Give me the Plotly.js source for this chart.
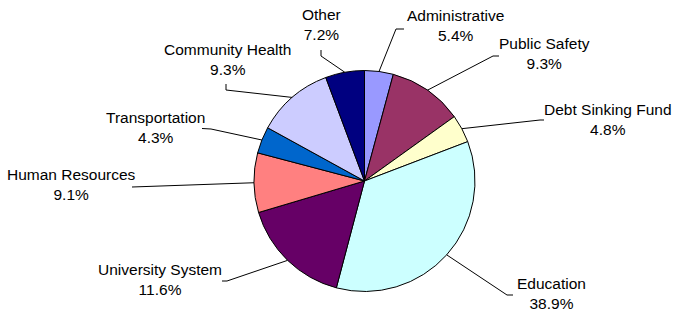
<!DOCTYPE html>
<html>
<head>
<meta charset="utf-8">
<script src="https://cdn.plot.ly/plotly-3.0.1.min.js"></script>
<style>html,body{margin:0;padding:0;background:#fff;}#chart{width:674px;height:314px;}</style>
</head>
<body>
<div id="chart"></div>
<script>
// ---- data ----
const categories = ["Administrative", "Public Safety", "Debt Sinking Fund", "Education", "University System", "Human Resources", "Transportation", "Community Health", "Other"];
// slice sizes as drawn in the picture (share of the circle, %)
const sliceShares = [4.2, 10.9, 4.1, 34.9, 16.3, 8.7, 3.9, 11.3, 5.7];
// percentages as printed on the labels
const percentLabels = ["5.4%", "9.3%", "4.8%", "38.9%", "11.6%", "9.1%", "4.3%", "9.3%", "7.2%"];

// ---- styles / layout config ----
const sliceColors = ["#9999FF", "#993366", "#FFFFCC", "#CCFFFF", "#660066", "#FF8080", "#0066CC", "#CCCCFF", "#000080"];
const W = 674, H = 314;
const pieCx = 364.5, pieCy = 181, pieR = 110.5;
// label centre positions (px)
const labelX = [455, 544, 608, 551, 160, 71, 155, 228, 321];
const labelY = [26, 54, 119, 293, 279, 184, 127, 59, 25];
// leader elbow and end points (px)
const elbowX = [396, 493, 540, 507, 227, 132, 211, 226, 321];
const elbowY = [29, 56, 120, 295, 281, 187, 129, 90, 56];
const endX = [404, 499, 544, 513, 222, 132, 202, 226, 321];
const endY = [29, 56, 120, 295, 281, 187, 128.5, 84, 50];

const fontFamily = "Liberation Sans, Arial, sans-serif";

const total = sliceShares.reduce((a, b) => a + b, 0);
const px = x => x / W;
const py = y => 1 - y / H;

const shapes = [];
const annotations = [];
let cum = 0;
sliceShares.forEach((v, i) => {
  const mid = (cum + v / 2) / total * 2 * Math.PI;
  cum += v;
  const ex = pieCx + pieR * Math.sin(mid);
  const ey = pieCy - pieR * Math.cos(mid);
  shapes.push({
    type: "path", xref: "paper", yref: "paper",
    path: `M ${px(ex)} ${py(ey)} L ${px(elbowX[i])} ${py(elbowY[i])} L ${px(endX[i])} ${py(endY[i])}`,
    line: {color: "#000", width: 1}
  });
  annotations.push({
    xref: "paper", yref: "paper", x: px(labelX[i]), y: py(labelY[i]),
    xanchor: "center", yanchor: "middle", showarrow: false, align: "center",
    text: categories[i] + "<br>" + percentLabels[i],
    font: {family: fontFamily, size: 15.5, color: "#000"}
  });
});

const trace = {
  type: "pie",
  labels: categories,
  values: sliceShares,
  sort: false,
  direction: "clockwise",
  rotation: 0,
  textinfo: "none",
  hoverinfo: "label",
  marker: {colors: sliceColors, line: {color: "#000", width: 1}},
  domain: {x: [px(pieCx - pieR), px(pieCx + pieR)], y: [py(pieCy + pieR), py(pieCy - pieR)]}
};

Plotly.newPlot("chart", [trace], {
  width: W, height: H,
  margin: {l: 0, r: 0, t: 0, b: 0},
  showlegend: false,
  paper_bgcolor: "#fff",
  shapes: shapes,
  annotations: annotations,
  font: {family: fontFamily}
}, {displayModeBar: false, staticPlot: true});
</script>
</body>
</html>
